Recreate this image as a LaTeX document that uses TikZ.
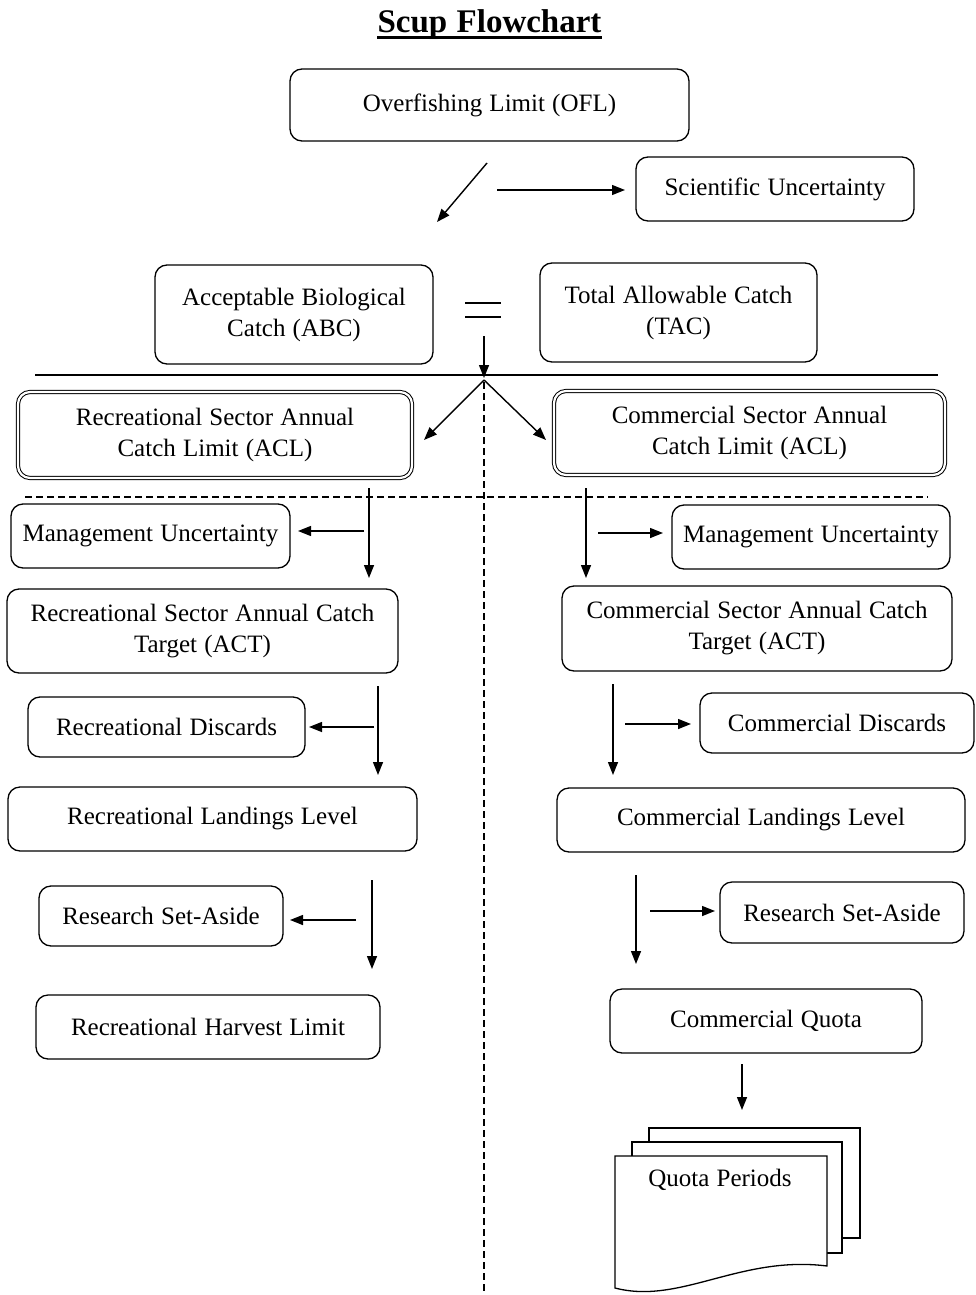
\documentclass[tikz,border=0pt]{standalone}
\usepackage{fontspec}
\setmainfont[WordSpace=1.15]{Liberation Serif}
\usetikzlibrary{arrows.meta}
\begin{document}
\begin{tikzpicture}[x=1pt,y=-1pt,
 txt/.style={font=\fontsize{25}{31}\selectfont},
 box/.style={txt, draw, rounded corners=12pt, line width=1.3pt, align=center, inner sep=0pt},
 dbox/.style={box, double, double distance=2.2pt, line width=1pt},
 arr/.style={line width=1.4pt, -{Triangle[length=13pt,width=10pt]}},
 dline/.style={line width=1.3pt, dash pattern=on 7pt off 4pt},
 page/.style={draw, fill=white, line width=1.3pt}]
\useasboundingbox (0,0) rectangle (975,1295);

% title
\node[anchor=base, inner sep=0pt, font=\fontsize{33}{36}\selectfont\bfseries] (title) at (489.5,33) {Scup Flowchart};
\draw[line width=2.5pt] ([yshift=-4.5pt]title.base west) -- ([yshift=-4.5pt]title.base east);

% top boxes
\node[box, minimum width=399pt, minimum height=72pt] (ofl) at (489.5,105) {Overfishing Limit (OFL)};
\node[box, minimum width=278pt, minimum height=64pt] (sci) at (775,189) {Scientific Uncertainty};
\node[box, minimum width=278pt, minimum height=99pt] (abc) at (294,314.5) {Acceptable Biological\\Catch (ABC)};
\node[box, minimum width=277pt, minimum height=99pt] (tac) at (678.5,312.5) {Total Allowable Catch\\(TAC)};
\draw[line width=1.5pt] (465,303) -- (501,303) (465,317) -- (501,317);

% sector ACL
\node[dbox, minimum width=394pt, minimum height=86pt] (racl) at (215,435) {Recreational Sector Annual\\Catch Limit (ACL)};
\node[dbox, minimum width=391pt, minimum height=84pt] (cacl) at (749.5,433) {Commercial Sector Annual\\Catch Limit (ACL)};

% left column
\node[box, minimum width=279pt, minimum height=64pt] (rmu) at (150.5,536) {Management Uncertainty};
\node[box, minimum width=391pt, minimum height=84pt] (ract) at (202.5,631) {Recreational Sector Annual Catch\\Target (ACT)};
\node[box, minimum width=277pt, minimum height=60pt] (rdis) at (166.5,727) {Recreational Discards};
\node[box, minimum width=409pt, minimum height=64pt] (rland) at (212.5,819) {Recreational Landings Level};
\node[box, minimum width=244pt, minimum height=60pt] (rrsa) at (161,916) {Research Set-Aside};
\node[box, minimum width=344pt, minimum height=64pt] (rharv) at (208,1027) {Recreational Harvest Limit};

% right column
\node[box, minimum width=278pt, minimum height=64pt] (cmu) at (811,537) {Management Uncertainty};
\node[box, minimum width=390pt, minimum height=85pt] (cact) at (757,628.5) {Commercial Sector Annual Catch\\Target (ACT)};
\node[box, minimum width=274pt, minimum height=60pt] (cdis) at (837,723) {Commercial Discards};
\node[box, minimum width=408pt, minimum height=64pt] (cland) at (761,820) {Commercial Landings Level};
\node[box, minimum width=244pt, minimum height=61pt] (crsa) at (842,912.5) {Research Set-Aside};
\node[box, minimum width=312pt, minimum height=64pt] (cquota) at (766,1021) {Commercial Quota};

% multi-document
\draw[page] (649,1128) rectangle (860,1238);
\draw[page] (632,1142) rectangle (842,1253);
\draw[page] (615,1156) -- (827,1156) -- (827,1266) .. controls (740,1255) and (680,1305) .. (615,1288) -- cycle;
\node[txt, inner sep=0pt] (qp) at (720,1180) {Quota Periods};

% separators
\draw[line width=1.3pt] (35,375) -- (938,375);
\draw[dline] (25,497) -- (928,497);
\draw[dline] (484,382) -- (484,1295);

% coordinates
\coordinate (a1s) at (487,163); \coordinate (a1e) at (437,222);
\coordinate (a2s) at (497,190); \coordinate (a2e) at (625,190);
\coordinate (a3s) at (484,336); \coordinate (a3e) at (484,378);
\coordinate (a4s) at (484,380); \coordinate (a4e) at (424,440);
\coordinate (a5e) at (546,440);
\coordinate (l1s) at (369,488); \coordinate (l1e) at (369,578);
\coordinate (l2s) at (364,531); \coordinate (l2e) at (298,531);
\coordinate (l3s) at (378,686); \coordinate (l3e) at (378,775);
\coordinate (l4s) at (374,727); \coordinate (l4e) at (309,727);
\coordinate (l5s) at (372,880); \coordinate (l5e) at (372,969);
\coordinate (l6s) at (356,920); \coordinate (l6e) at (290,920);
\coordinate (r1s) at (586,488); \coordinate (r1e) at (586,578);
\coordinate (r2s) at (598,533); \coordinate (r2e) at (663,533);
\coordinate (r3s) at (613,684); \coordinate (r3e) at (613,775);
\coordinate (r4s) at (625,724); \coordinate (r4e) at (691,724);
\coordinate (r5s) at (636,875); \coordinate (r5e) at (636,964);
\coordinate (r6s) at (650,911); \coordinate (r6e) at (715,911);
\coordinate (r7s) at (742,1064); \coordinate (r7e) at (742,1110);

% arrows
\draw[arr] (a1s) -- (a1e);
\draw[arr] (a2s) -- (a2e);
\draw[arr] (a3s) -- (a3e);
\draw[arr] (a4s) -- (a4e);
\draw[arr] (a4s) -- (a5e);
\foreach \n in {l1,l2,l3,l4,l5,l6,r1,r2,r3,r4,r5,r6,r7}
  \draw[arr] (\n s) -- (\n e);
\end{tikzpicture}
\end{document}
